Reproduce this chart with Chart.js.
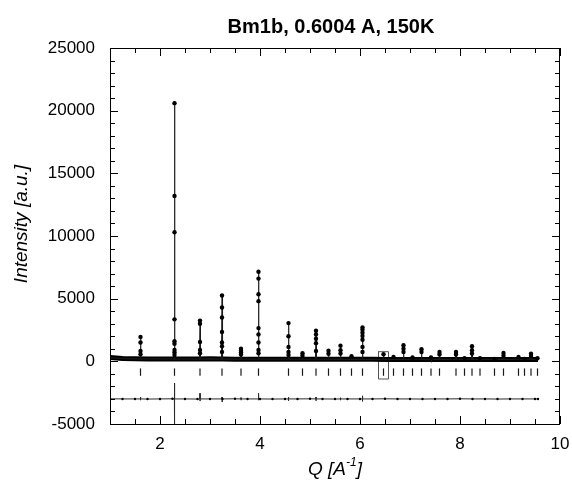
<!DOCTYPE html>
<html>
<head>
<meta charset="utf-8">
<script src="https://cdn.jsdelivr.net/npm/chart.js@4.4.1/dist/chart.umd.min.js"></script>
<style>
  html, body { margin: 0; padding: 0; background: #fff; }
  canvas { display: block; }
</style>
</head>
<body>
<canvas id="pattern" width="572" height="487"></canvas>
<script>
// --- datos ---
const plotTitle = 'Bm1b, 0.6004 A, 150K';
const yTitle = 'Intensity [a.u.]';
const xLabels = [2, 4, 6, 8, 10];
const yLabels = [-5000, 0, 5000, 10000, 15000, 20000, 25000];

// fondo (banda gruesa de puntos observados)
const bgQ = [1.0, 1.25, 1.5, 1.75, 2.0, 2.25, 2.5, 2.75, 3.0, 3.25, 3.5, 3.75, 4.0, 4.25, 4.5, 4.75,
  5.0, 5.25, 5.5, 5.75, 6.0, 6.25, 6.5, 6.75, 7.0, 7.25, 7.5, 7.75, 8.0, 8.25, 8.5, 8.75, 9.0, 9.25, 9.5, 9.56];
const bgI = [300, 220, 200, 195, 190, 185, 185, 180, 200, 180, 175, 175, 170, 170, 170, 165,
  165, 165, 160, 160, 160, 160, 155, 155, 155, 155, 150, 150, 150, 150, 150, 150, 145, 145, 145, 145];
// diferencia obs-calc (desplazada)
const diffI = [-2990, -3000, -3000, -3010, -3000, -2990, -3000, -3010, -3000, -3000, -2990, -3000, -3000, -3010, -3000, -3000,
  -2990, -3000, -3010, -3000, -3000, -3000, -2990, -3000, -3000, -3010, -3000, -3000, -2990, -3000, -3000, -3010, -3000, -3000, -3000, -3000];

// reflexiones
const peakQ = [1.61, 2.29, 2.80, 3.24, 3.62, 3.97, 4.57, 4.85, 5.12, 5.37, 5.61, 5.83, 6.05, 6.47, 6.67,
  6.87, 7.05, 7.23, 7.42, 7.59, 7.92, 8.09, 8.24, 8.40, 8.69, 8.87, 9.17, 9.29, 9.42, 9.55];
const peakTop = [1950, 20600, 3250, 5250, 1000, 7150, 3050, 650, 2450, 850, 1250, 400, 2700, 560, 350,
  1280, 300, 960, 300, 750, 750, 250, 1200, 250, 200, 660, 350, 200, 600, 250];
const peakObs = [
  [1950, 1500, 820, 560],
  [20600, 13200, 10300, 3350, 1600, 1400, 900, 700, 500],
  [3250, 3000, 1550, 900, 650],
  [5250, 4300, 3500, 2350, 1500, 1200, 750],
  [1000, 850, 700, 550],
  [7150, 6600, 5350, 4800, 2650, 2150, 1500, 900, 650],
  [3050, 2000, 1150, 750, 500],
  [650, 450],
  [2450, 2150, 1800, 1450, 820],
  [850, 600],
  [1250, 880, 620],
  [400],
  [2700, 2520, 2280, 2020, 1720, 1150, 750],
  [560],
  [350],
  [1280, 1000, 750],
  [300],
  [960, 740],
  [300],
  [750, 550],
  [750, 550],
  [250],
  [1200, 880, 620],
  [250],
  [200],
  [660, 450],
  [350],
  [200],
  [600, 420],
  [250]
];
const peakBase = 180;
const tickLevel = -860;

// picos en la curva diferencia
const spikeQ = [1.61, 2.29, 2.80, 3.24, 3.62, 3.97, 4.57, 5.12, 5.61, 6.05];
const spikeHi = [-2850, -1730, -2550, -2850, -2900, -2550, -2850, -2850, -2900, -2750];
const spikeLo = [-3100, -5600, -3170, -3250, -3100, -3100, -3150, -3150, -3100, -3200];

// recuadro marcado alrededor de la reflexion ~6.47
const boxQ = [6.37, 6.57];
const boxI = [-1410, 770];

// --- construir series ---
const bandPts = bgQ.map((q, i) => ({ x: q, y: bgI[i] }));

const calcPts = bandPts.slice();
peakQ.forEach((q, i) => {
  calcPts.push({ x: q - 0.008, y: peakBase }, { x: q, y: peakTop[i] }, { x: q + 0.008, y: peakBase });
});
calcPts.sort((a, b) => a.x - b.x);

const obsPts = [];
peakQ.forEach((q, i) => peakObs[i].forEach(v => obsPts.push({ x: q, y: v })));

const diffPts = bgQ.map((q, i) => ({ x: q, y: diffI[i], dot: true }));
spikeQ.forEach((q, i) => {
  diffPts.push({ x: q - 0.002, y: -3000 }, { x: q, y: spikeHi[i] }, { x: q + 0.001, y: spikeLo[i] }, { x: q + 0.003, y: -3000 });
});
diffPts.sort((a, b) => a.x - b.x);

const tickPts = peakQ.map(q => ({ x: q, y: tickLevel }));

const boxPts = [
  { x: boxQ[0], y: boxI[0] }, { x: boxQ[1], y: boxI[0] }, { x: boxQ[1], y: boxI[1] },
  { x: boxQ[0], y: boxI[1] }, { x: boxQ[0], y: boxI[0] }
];

const FONT = "'Liberation Sans', Arial, sans-serif";

// marco, ticks internos y titulos
const marcoPlugin = {
  id: 'marco',
  afterDraw(chart) {
    const { ctx, chartArea: a, scales: { x, y } } = chart;
    ctx.save();
    ctx.strokeStyle = '#000';
    ctx.lineWidth = 1;
    ctx.strokeRect(a.left + 0.5, a.top + 0.5, a.right - a.left - 1, a.bottom - a.top);
    ctx.beginPath();
    for (let i = 2; i <= 20; i++) {
      const px = Math.round(x.getPixelForValue(i / 2)) + 0.5;
      const len = i % 4 === 0 ? 8 : 5;
      ctx.moveTo(px, a.bottom); ctx.lineTo(px, a.bottom - len);
      ctx.moveTo(px, a.top); ctx.lineTo(px, a.top + len);
    }
    for (let v = -5000; v <= 25000; v += 1000) {
      const py = Math.round(y.getPixelForValue(v)) + 0.5;
      const len = v % 5000 === 0 ? 8 : 5;
      ctx.moveTo(a.left, py); ctx.lineTo(a.left + len, py);
      ctx.moveTo(a.right, py); ctx.lineTo(a.right - len, py);
    }
    ctx.stroke();

    ctx.fillStyle = '#000';
    ctx.textBaseline = 'middle';
    ctx.textAlign = 'center';
    ctx.font = 'bold 20px ' + FONT;
    ctx.fillText(plotTitle, 331, 27);

    // titulo eje x con superindice
    ctx.font = 'italic 19px ' + FONT;
    const w1 = ctx.measureText('Q [A').width;
    const w3 = ctx.measureText(']').width;
    ctx.font = 'italic 12px ' + FONT;
    const w2 = ctx.measureText('-1').width;
    const x0 = (a.left + a.right) / 2 - (w1 + w2 + w3) / 2;
    ctx.textAlign = 'left';
    ctx.font = 'italic 19px ' + FONT;
    ctx.fillText('Q [A', x0, 470);
    ctx.fillText(']', x0 + w1 + w2, 470);
    ctx.font = 'italic 12px ' + FONT;
    ctx.fillText('-1', x0 + w1, 463);

    ctx.translate(22, 224);
    ctx.rotate(-Math.PI / 2);
    ctx.textAlign = 'center';
    ctx.font = 'italic 19px ' + FONT;
    ctx.fillText(yTitle, 0, 0);
    ctx.restore();
  }
};

new Chart(document.getElementById('pattern'), {
  type: 'scatter',
  data: {
    datasets: [
      { data: obsPts, showLine: false, pointRadius: 2.2, pointBackgroundColor: '#000', pointBorderWidth: 0 },
      { data: calcPts, showLine: true, borderColor: '#1a1a1a', borderWidth: 1.2, pointRadius: 0 },
      { data: bandPts, showLine: true, borderColor: '#000', borderWidth: 5, pointRadius: 0 },
      { data: diffPts, showLine: true, borderColor: '#2a2a2a', borderWidth: 1,
        pointRadius: c => (c.raw && c.raw.dot ? 1.2 : 0), pointBackgroundColor: '#000', pointBorderWidth: 0 },
      { data: tickPts, showLine: false, pointStyle: 'line', rotation: 90, radius: 3.7,
        borderColor: '#1a1a1a', borderWidth: 1.2 },
      { data: boxPts, showLine: true, borderColor: '#555', borderWidth: 1, pointRadius: 0 }
    ]
  },
  options: {
    responsive: false,
    animation: false,
    layout: { padding: { top: 48, right: 12, left: 0, bottom: 0 } },
    plugins: { legend: { display: false }, tooltip: { enabled: false }, title: { display: false } },
    scales: {
      x: {
        type: 'linear', min: 1, max: 10,
        grid: { display: false, drawTicks: false },
        border: { display: false },
        afterBuildTicks: s => { s.ticks = xLabels.map(v => ({ value: v })); },
        afterFit: s => { s.height = 63; s.paddingLeft = 0; s.paddingRight = 0; },
        ticks: { color: '#000', padding: 10, font: { family: FONT, size: 17 }, callback: v => String(v) }
      },
      y: {
        type: 'linear', min: -5000, max: 25000,
        grid: { display: false, drawTicks: false },
        border: { display: false },
        afterBuildTicks: s => { s.ticks = yLabels.map(v => ({ value: v })); },
        afterFit: s => { s.width = 110; s.paddingTop = 0; s.paddingBottom = 0; },
        ticks: { color: '#000', padding: 15, font: { family: FONT, size: 17 }, callback: v => String(v) }
      }
    }
  },
  plugins: [marcoPlugin]
});
</script>
</body>
</html>
